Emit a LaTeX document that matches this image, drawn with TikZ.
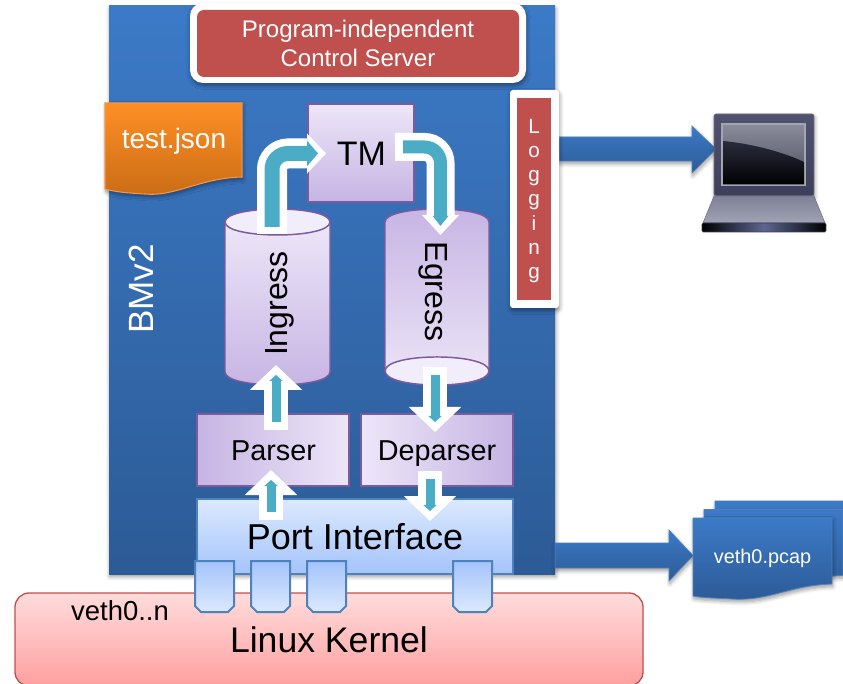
\documentclass[tikz,border=0pt]{standalone}
\usepackage{fontspec}
\setmainfont{Liberation Sans}
\usetikzlibrary{arrows.meta,shadows,shadows.blur,calc}
\definecolor{bluetop}{HTML}{3C7AC7}
\definecolor{bluebot}{HTML}{2C5B96}
\definecolor{redbox}{HTML}{C0504D}
\definecolor{lilaclt}{HTML}{EDE6F8}
\definecolor{lilacdk}{HTML}{C6B4E3}
\definecolor{lilaclid}{HTML}{F2EDFA}
\definecolor{lilacedge}{HTML}{7D5A9C}
\definecolor{portlt}{HTML}{DCE9FE}
\definecolor{portdk}{HTML}{A4C4FB}
\definecolor{portedge}{HTML}{4F81BD}
\definecolor{tealarrow}{HTML}{4BACC6}
\definecolor{orangetop}{HTML}{FF8F25}
\definecolor{orangebot}{HTML}{C96C16}
\definecolor{orangeedge}{HTML}{F79646}
\definecolor{kerneltop}{HTML}{FFDCDC}
\definecolor{kernelbot}{HTML}{FF9F9F}
\definecolor{lapframetop}{HTML}{50526F}
\definecolor{lapframebot}{HTML}{3C3E5A}
\definecolor{lapedge}{HTML}{6E7088}
\definecolor{lapbasetop}{HTML}{7F8296}
\definecolor{lapbasebot}{HTML}{A0A3B4}
\definecolor{lapbar}{HTML}{5C6690}
\definecolor{lapbezel}{HTML}{A4A5B2}
\definecolor{glosstop}{HTML}{8A8C9C}
\definecolor{glossbot}{HTML}{4A4C5C}
\definecolor{screentop}{HTML}{2A2C3E}
\newcommand{\pxd}[1]{#1*0.75pt}
\tikzset{
  softshadow/.style={blur shadow={shadow xshift=0.6pt,shadow yshift=-2pt,shadow blur steps=6,shadow blur radius=3pt,shadow opacity=40}},
  sized/.style 2 args={minimum width={\pxd{#1}},minimum height={\pxd{#2}},inner sep=0pt,outer sep=0pt},
  lilacV/.style={draw=lilacedge,line width=1.1pt,top color=lilaclt,bottom color=lilacdk},
  lilacLR/.style={draw=lilacedge,line width=1.1pt,left color=lilacdk,right color=lilaclt},
  lilacRL/.style={draw=lilacedge,line width=1.1pt,left color=lilaclt,right color=lilacdk},
  portpath/.style={draw=portedge,line width=1.5pt,top color=portdk,bottom color=portlt},
  bluedoc/.style={draw=portedge,line width=0.6pt,top color=bluetop,bottom color=bluebot},
  bluearrow/.style={draw=portedge,line width=0.4pt,top color=bluetop,bottom color=bluebot},
  whitearrow/.style={draw=white,line width={\pxd{24}},line join=miter,-{Triangle[length={\pxd{25}},width={\pxd{51}}]}},
  tealstraight/.style={draw=tealarrow,line width={\pxd{9}},-{Triangle[length={\pxd{6}},width={\pxd{13}}]},shorten <={\pxd{8}},shorten >={\pxd{10}}},
  lbl/.style={text=black,inner sep=0pt},
  wlbl/.style={text=white,inner sep=0pt},
}
\begin{document}
\begin{tikzpicture}[x=0.75pt,y=-0.75pt]
\useasboundingbox (0,0) rectangle (843,684);
\clip (0,0) rectangle (843,684);

% kernel
\node[sized={628}{93},rounded corners={\pxd{14}},draw=redbox,line width=1pt,top color=kerneltop,bottom color=kernelbot] (kernel) at (329,639.5) {};

% main box
\node[sized={446}{568},top color=bluetop,bottom color=bluebot,softshadow] (bmv) at (332,290) {};
\node[wlbl,rotate=90,font=\fontsize{26.3}{30}\selectfont] (bmvlabel) at (141,289) {BMv2};

% control server
\node[sized={336}{80},rounded corners={\pxd{13}},fill=white,softshadow] (serverframe) at (358,43) {};
\node[sized={322}{67},rounded corners={\pxd{7}},fill=redbox,text=white,align=center,font=\fontsize{18}{21.8}\selectfont] (server) at (358,43.5) {Program-independent\\Control Server};

% test.json
\path[draw=orangeedge,line width=0.8pt,top color=orangetop,bottom color=orangebot,softshadow] (105,103) -- (242,103) -- (242,177) .. controls (200,178) and (175,197) .. (145,194) .. controls (128,193) and (115,192) .. (105,189) -- cycle;
\node[wlbl,font=\fontsize{21}{25}\selectfont] (json) at (174,141) {test.json};

% TM
\node[sized={106}{98},lilacV] (tm) at (361,153) {};
\node[lbl,font=\fontsize{25.5}{30}\selectfont] (tmlabel) at (361.5,154) {TM};

% Ingress
\path[lilacV] (225,222) -- (225,372) .. controls (225,389.3) and (330,389.3) .. (330,372) -- (330,222) -- cycle;
\path[draw=lilacedge,line width=1.1pt,fill=lilaclid] (225,222) .. controls (225,204.7) and (330,204.7) .. (330,222) .. controls (330,239.3) and (225,239.3) .. (225,222) -- cycle;
\node[lbl,rotate=90,font=\fontsize{24}{28}\selectfont] (ingress) at (279.5,303.5) {Ingress};

% Egress
\path[draw=lilacedge,line width=1.1pt,top color=lilacdk,bottom color=lilaclt] (385,222) .. controls (385,204.7) and (489,204.7) .. (489,222) -- (489,371) .. controls (489,389.7) and (385,389.7) .. (385,371) -- cycle;
\path[draw=lilacedge,line width=1.1pt,fill=lilaclid] (385,371) .. controls (385,352.3) and (489,352.3) .. (489,371) .. controls (489,389.7) and (385,389.7) .. (385,371) -- cycle;
\node[lbl,rotate=-90,font=\fontsize{24}{28}\selectfont] (egress) at (433,291.5) {Egress};

% Parser / Deparser / Port interface
\node[sized={152}{72},lilacLR] (parser) at (273,450) {};
\node[lbl,anchor=base,font=\fontsize{21.6}{26}\selectfont] (parserlabel) at (273.5,460.5) {Parser};
\node[sized={152}{72},lilacRL] (deparser) at (437,450) {};
\node[lbl,anchor=base,font=\fontsize{21.6}{26}\selectfont] (deparserlabel) at (437,460.5) {Deparser};
\node[sized={316}{75},draw=portedge,line width=1pt,top color=portlt,bottom color=portdk,font=\fontsize{27}{32}\selectfont,text=black] (port) at (355,536.5) {Port Interface};

% Ports
\foreach \nm/\px in {p1/195,p2/251,p3/307,p4/453}{
  \path[portpath] (\px,561) -- (\px+39,561) -- (\px+39,606) -- (\px+33,612) -- (\px+6,612) -- (\px,606) -- cycle;
  \coordinate (\nm) at (\px+19.5,586);
}
\node[lbl,font=\fontsize{20.6}{25}\selectfont] (veth) at (120,611) {veth0..n};
\node[lbl,font=\fontsize{26.7}{32}\selectfont] (kernellabel) at (329,640) {Linux Kernel};

% Straight white/teal arrows
\coordinate (pi1) at (276,430);   \coordinate (pi2) at (276,365);
\coordinate (ed1) at (435,367);   \coordinate (ed2) at (435,432);
\coordinate (pp1) at (271,520);   \coordinate (pp2) at (271,470);
\coordinate (dp1) at (430,471);   \coordinate (dp2) at (430,521);
\draw[whitearrow] (pi1) -- (pi2);
\draw[tealstraight] (pi1) -- (pi2);
\draw[whitearrow] (ed1) -- (ed2);
\draw[tealstraight] (ed1) -- (ed2);
\draw[whitearrow] (pp1) -- (pp2);
\draw[tealstraight] (pp1) -- (pp2);
\draw[whitearrow] (dp1) -- (dp2);
\draw[tealstraight] (dp1) -- (dp2);

% Bent arrows
\coordinate (ig1) at (272,234);  \coordinate (ig2) at (326,153.5);
\draw[draw=white,line width={\pxd{30}},rounded corners={\pxd{16}},-{Triangle[length={\pxd{19}},width={\pxd{39}}]}] (ig1) |- (ig2);
\draw[draw=tealarrow,line width={\pxd{15}},rounded corners={\pxd{16}},shorten <={\pxd{7}},shorten >={\pxd{8}},-{Triangle[length={\pxd{11}},width={\pxd{25}}]}] (ig1) |- (ig2);
\coordinate (eg1) at (395,147);  \coordinate (eg2) at (440.5,235);
\draw[draw=white,line width={\pxd{28}},rounded corners={\pxd{16}},-{Triangle[length={\pxd{20}},width={\pxd{36}}]}] (eg1) -| (eg2);
\draw[draw=tealarrow,line width={\pxd{13}},rounded corners={\pxd{16}},shorten <={\pxd{8}},shorten >={\pxd{9}},-{Triangle[length={\pxd{10}},width={\pxd{15}}]}] (eg1) -| (eg2);

% Logging
\coordinate (lga) at (559,149);
\coordinate (lgb) at (716,149);
\path[bluearrow,softshadow] (lga) ++(0,-12) -- ++(133,0) -- ++(0,-11) -- (lgb) -- ++(-24,24) -- ++(0,-12) -- ++(-133,0) -- cycle;
\node[sized={49}{218},rounded corners={\pxd{3}},fill=white,softshadow] (logframe) at (534.5,199) {};
\node[sized={34}{202},fill=redbox,text=white,align=center] (logging) at (534,199) {};
\node[wlbl,align=center,font=\fontsize{15.5}{18.2}\selectfont] (logginglabel) at (534,201) {L\\o\\g\\g\\i\\n\\g};

% Pcap arrow
\coordinate (pca) at (555,555.5);
\coordinate (pcb) at (693,555.5);
\path[bluearrow,softshadow] (pca) ++(0,-12.5) -- ++(114,0) -- ++(0,-13) -- (pcb) -- ++(-24,25.5) -- ++(0,-13) -- ++(-114,0) -- cycle;

% Pcap docs
\foreach \dx/\dy in {22/-17,11/-8.5,0/0}{
  \path[bluedoc,softshadow] (693+\dx,518+\dy) -- (832+\dx,518+\dy) -- (832+\dx,584+\dy) .. controls (790+\dx,585+\dy) and (770+\dx,601+\dy) .. (733+\dx,599+\dy) .. controls (718+\dx,598+\dy) and (703+\dx,598+\dy) .. (693+\dx,596+\dy) -- cycle;
}
\node[wlbl,font=\fontsize{14.9}{18}\selectfont] (pcap) at (762.5,558.5) {veth0.pcap};

% Laptop
\path[draw=lapedge,line width=0.5pt,top color=lapframetop,bottom color=lapframebot,rounded corners=1.5pt,softshadow] (714,114) rectangle (814,196);
\path[draw=lapedge,line width=0.4pt,top color=lapbasetop,bottom color=lapbasebot] (714,196) -- (814,196) -- (825,223) -- (703,223) -- cycle;
\path[left color=black,right color=black,middle color=lapbar,draw=lapframebot,line width=0.4pt,rounded corners=1pt] (702,223) rectangle (826,232);
\path[draw=lapbezel,line width=0.9pt,top color=glosstop,bottom color=glossbot] (722,124) rectangle (805,185);
\path[top color=screentop,bottom color=black] (723,141) .. controls (755,144) and (785,153) .. (804,162) -- (804,184.5) -- (723,184.5) -- cycle;
\end{tikzpicture}
\end{document}
